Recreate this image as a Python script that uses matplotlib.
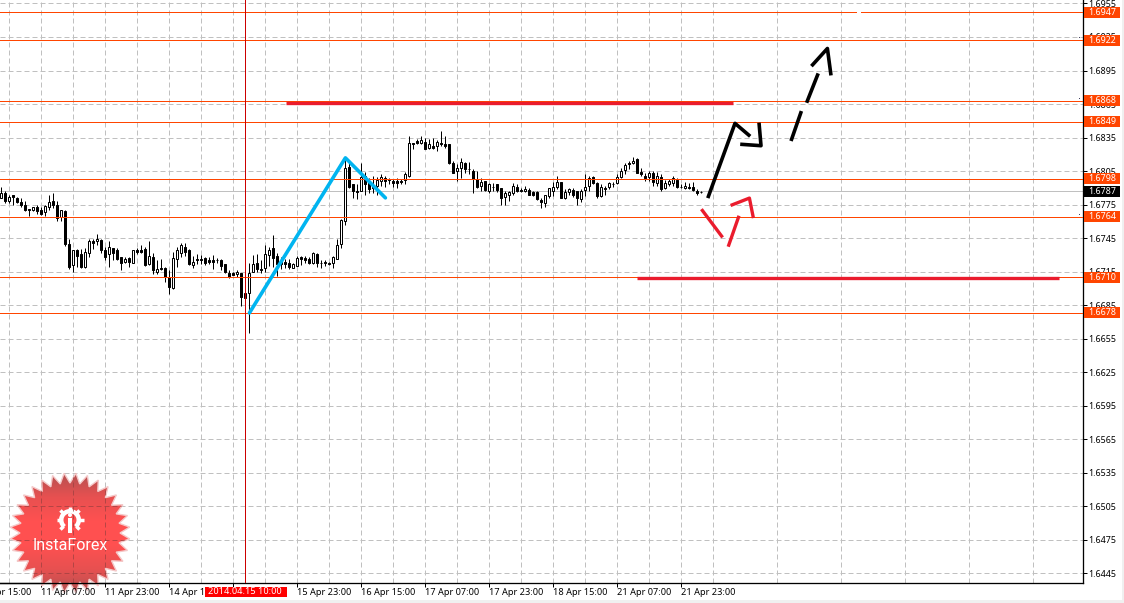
import numpy as np
from matplotlib import pyplot as plt
from matplotlib.colors import LinearSegmentedColormap
from matplotlib.patches import Circle, Polygon, Rectangle, Wedge

plt.rcParams['font.family'] = ['Noto Sans', 'DejaVu Sans']

# hourly candles, prices as 1.xxxx (only the last four digits are kept here)
opens = [
    6781, 6785, 6778, 6784, 6781, 6777, 6775, 6771, 6770, 6773,
    6770, 6768, 6773, 6778, 6775, 6764, 6769, 6740, 6721, 6734,
    6731, 6719, 6732, 6742, 6742, 6743, 6734, 6731, 6736, 6734,
    6728, 6724, 6727, 6723, 6734, 6734, 6735, 6722, 6728, 6715,
    6718, 6718, 6710, 6700, 6726, 6732, 6737, 6734, 6721, 6726,
    6726, 6727, 6725, 6725, 6725, 6725, 6722, 6714, 6714, 6713,
    6714, 6691, 6696, 6715, 6723, 6717, 6718, 6730, 6736, 6729,
    6725, 6724, 6723, 6718, 6720, 6728, 6727, 6726, 6723, 6731,
    6723, 6724, 6723, 6723, 6726, 6740, 6760, 6809, 6793, 6787,
    6787, 6801, 6795, 6792, 6792, 6796, 6799, 6798, 6796, 6796,
    6796, 6797, 6801, 6830, 6832, 6830, 6831, 6826, 6827, 6827,
    6830, 6829, 6829, 6812, 6805, 6808, 6812, 6807, 6805, 6798,
    6792, 6796, 6787, 6791, 6793, 6790, 6782, 6784, 6785, 6791,
    6788, 6787, 6788, 6786, 6786, 6779, 6776, 6783, 6787, 6791,
    6795, 6781, 6786, 6788, 6787, 6780, 6788, 6792, 6800, 6794,
    6783, 6790, 6791, 6793, 6794, 6800, 6806, 6812, 6812, 6816,
    6804, 6801, 6800, 6803, 6794, 6800, 6790, 6793, 6794, 6797,
    6791, 6790, 6791, 6791, 6787, 6786,
]
highs = [
    6791, 6787, 6784, 6784, 6782, 6781, 6778, 6771, 6773, 6775,
    6773, 6775, 6784, 6785, 6778, 6770, 6770, 6744, 6734, 6735,
    6735, 6736, 6744, 6744, 6749, 6744, 6737, 6742, 6736, 6736,
    6728, 6728, 6728, 6734, 6736, 6739, 6737, 6742, 6732, 6725,
    6726, 6719, 6716, 6733, 6737, 6741, 6741, 6735, 6729, 6731,
    6730, 6728, 6728, 6730, 6727, 6726, 6722, 6716, 6715, 6716,
    6714, 6700, 6723, 6730, 6731, 6725, 6739, 6737, 6748, 6732,
    6728, 6726, 6726, 6723, 6729, 6729, 6729, 6728, 6733, 6732,
    6725, 6725, 6724, 6729, 6744, 6762, 6817, 6813, 6793, 6793,
    6812, 6804, 6799, 6801, 6800, 6802, 6801, 6799, 6798, 6799,
    6798, 6804, 6836, 6830, 6834, 6836, 6835, 6834, 6835, 6833,
    6841, 6836, 6829, 6814, 6811, 6817, 6813, 6813, 6807, 6805,
    6799, 6796, 6794, 6794, 6793, 6790, 6787, 6787, 6794, 6793,
    6790, 6792, 6790, 6787, 6787, 6781, 6784, 6790, 6795, 6801,
    6795, 6789, 6790, 6790, 6787, 6789, 6802, 6801, 6801, 6795,
    6793, 6792, 6795, 6795, 6802, 6808, 6812, 6814, 6818, 6817,
    6808, 6803, 6805, 6805, 6804, 6802, 6797, 6798, 6801, 6799,
    6793, 6795, 6794, 6795, 6789, 6787,
]
lows = [
    6781, 6776, 6776, 6775, 6776, 6773, 6769, 6765, 6769, 6767,
    6766, 6765, 6770, 6772, 6760, 6760, 6738, 6717, 6715, 6719,
    6718, 6718, 6728, 6735, 6739, 6732, 6725, 6719, 6725, 6725,
    6716, 6723, 6719, 6723, 6731, 6732, 6720, 6721, 6713, 6713,
    6716, 6706, 6695, 6699, 6719, 6728, 6729, 6721, 6718, 6722,
    6722, 6721, 6722, 6717, 6723, 6716, 6714, 6709, 6712, 6710,
    6684, 6682, 6660, 6715, 6715, 6714, 6715, 6720, 6719, 6711,
    6717, 6718, 6717, 6718, 6720, 6721, 6723, 6722, 6722, 6719,
    6718, 6720, 6721, 6718, 6726, 6736, 6757, 6790, 6781, 6780,
    6787, 6784, 6785, 6785, 6784, 6792, 6791, 6793, 6791, 6790,
    6793, 6793, 6800, 6825, 6829, 6829, 6825, 6825, 6825, 6823,
    6827, 6826, 6811, 6803, 6796, 6799, 6803, 6802, 6785, 6790,
    6787, 6787, 6785, 6787, 6786, 6775, 6775, 6778, 6784, 6786,
    6786, 6786, 6784, 6783, 6779, 6772, 6773, 6781, 6783, 6789,
    6781, 6780, 6784, 6782, 6775, 6777, 6783, 6787, 6793, 6781,
    6782, 6784, 6789, 6791, 6793, 6799, 6802, 6807, 6811, 6803,
    6801, 6796, 6796, 6792, 6792, 6787, 6789, 6792, 6792, 6790,
    6790, 6789, 6789, 6787, 6784, 6785,
]
closes = [
    6785, 6778, 6782, 6782, 6777, 6775, 6770, 6770, 6773, 6769,
    6767, 6774, 6777, 6775, 6763, 6770, 6740, 6719, 6734, 6729,
    6719, 6733, 6742, 6741, 6744, 6734, 6728, 6737, 6732, 6726,
    6723, 6726, 6724, 6734, 6733, 6733, 6721, 6729, 6716, 6717,
    6717, 6710, 6701, 6727, 6734, 6739, 6733, 6722, 6724, 6725,
    6725, 6723, 6724, 6724, 6725, 6720, 6715, 6710, 6712, 6715,
    6692, 6696, 6714, 6722, 6717, 6716, 6731, 6734, 6727, 6722,
    6722, 6722, 6719, 6722, 6727, 6726, 6725, 6723, 6732, 6723,
    6723, 6723, 6722, 6728, 6739, 6761, 6808, 6791, 6787, 6786,
    6800, 6793, 6789, 6790, 6797, 6800, 6796, 6797, 6794, 6794,
    6795, 6802, 6830, 6829, 6830, 6833, 6825, 6829, 6826, 6831,
    6829, 6827, 6812, 6803, 6808, 6813, 6807, 6807, 6798, 6791,
    6795, 6788, 6793, 6791, 6788, 6781, 6785, 6786, 6792, 6787,
    6787, 6789, 6784, 6784, 6780, 6777, 6784, 6790, 6791, 6795,
    6781, 6786, 6789, 6784, 6781, 6787, 6791, 6799, 6794, 6783,
    6791, 6789, 6794, 6793, 6800, 6805, 6810, 6811, 6814, 6803,
    6802, 6799, 6803, 6795, 6801, 6789, 6794, 6796, 6799, 6791,
    6791, 6792, 6790, 6788, 6785, 6786,
]

# horizontal levels on the chart and the last price
levels = [1.6947, 1.6922, 1.6868, 1.6849, 1.6798, 1.6764, 1.6710, 1.6678]
last_price = 1.6787
price_ticks = [1.6955, 1.6925, 1.6895, 1.6865, 1.6835, 1.6805, 1.6775, 1.6745, 1.6715,
               1.6685, 1.6655, 1.6625, 1.6595, 1.6565, 1.6535, 1.6505, 1.6475, 1.6445]

# labelled time ticks: bar number, text
time_bars = [-6, 10, 26, 42, 58, 74, 90, 106, 122, 138, 154, 170]
time_labels = ['10 Apr 15:00', '11 Apr 07:00', '11 Apr 23:00', '14 Apr 15:00', '15 Apr 07:00',
               '15 Apr 23:00', '16 Apr 15:00', '17 Apr 07:00', '17 Apr 23:00', '18 Apr 15:00',
               '21 Apr 07:00', '21 Apr 23:00']
cross_bar = 61
cross_label = '2014.04.15 10:00'

# hand drawn lines as (bars, prices)
blue_bars = [62.1, 86.1, 96.1]
blue_prices = [1.6678, 1.68168, 1.67810]
red_lines = [([71.2, 183.0], [1.68659, 1.68659]),
             ([158.9, 264.4], [1.67096, 1.67096]),
             ([175.1, 180.4], [1.67709, 1.67456]),
             ([181.8, 184.5], [1.67373, 1.67650]),
             ([182.4, 187.1, 188.1], [1.67742, 1.67808, 1.67629])]
black_lines = [([176.7, 183.5, 187.3], [1.67808, 1.68477, 1.68361]),
               ([184.8, 190.0, 189.5], [1.68290, 1.68277, 1.68483]),
               ([197.5, 200.1], [1.68319, 1.68587]),
               ([201.4, 204.3], [1.68661, 1.68924]),
               ([202.6, 206.6, 207.5], [1.68989, 1.69147, 1.68906])]

ORANGE = '#ff4500'
PX = 0.72  # one pixel in points at dpi 100
DASH = (0, (5, 3))
PRICE_FONT = 6.4
TIME_FONT = 6.6

o = 1 + np.array(opens) / 10000
h = 1 + np.array(highs) / 10000
l = 1 + np.array(lows) / 10000
c = 1 + np.array(closes) / 10000
bars = np.arange(len(o))

fig = plt.figure(figsize=(11.24, 6.03), dpi=100, facecolor='white')

# chart area, 1083 x 583 px, bars 4 px apart
ax = fig.add_axes([0, 20 / 603, 1083 / 1124, 583 / 603], zorder=1)
ax.set_xlim(-0.25, 270.5)
ax.set_ylim(1.64363, 1.69581)
ax.set_axisbelow(True)

grid_bars = np.arange(2, 270, 8)
minor_bars = np.arange(2, 270, 16)
ax.set_xticks([b for b in time_bars if b >= 0])
ax.set_xticks(minor_bars, minor=True)
ax.set_xticklabels([])
ax.set_yticks(price_ticks)
ax.set_yticklabels(['%.4f' % p for p in price_ticks], fontsize=PRICE_FONT)
ax.yaxis.tick_right()
ax.tick_params(axis='y', length=3.5 * PX, width=PX, pad=1.5)
ax.tick_params(axis='x', length=4 * PX, width=PX)
ax.tick_params(axis='x', which='minor', length=0)
ax.grid(True, which='both', color='#c0c0c0', lw=PX, linestyle=DASH)
for side in ['left', 'top']:
    ax.spines[side].set_visible(False)
for side in ['right', 'bottom']:
    ax.spines[side].set_linewidth(1.3 * PX)

# candles
ax.vlines(bars, l, h, color='black', lw=PX, zorder=3)
body_low = np.minimum(o, c)
body_size = np.abs(c - o)
colors = np.where(c > o, 'white', 'black')
ax.bar(bars, body_size, bottom=body_low, width=0.5, color=colors, edgecolor='black', lw=PX, zorder=4)

# levels and crosshair
for lev in levels:
    ax.axhline(lev, color=ORANGE, lw=PX, zorder=5)
ax.plot([214.05, 215.0], [levels[0], levels[0]], color='white', lw=1.5, solid_capstyle='butt', zorder=5.5)
ax.axhline(last_price, color='#c0c0c0', lw=PX, zorder=2)
ax.axvline(cross_bar, color='#cc0000', lw=PX, zorder=5)

# hand drawn lines
ax.plot(blue_bars, blue_prices, color='#00b4f0', lw=2.6, solid_capstyle='round', zorder=6)
for xs, ys in red_lines:
    ax.plot(xs, ys, color='#ea1c2d', lw=2.4, solid_capstyle='butt', zorder=6)
for xs, ys in black_lines:
    ax.plot(xs, ys, color='black', lw=2.6, solid_capstyle='butt', zorder=6)

# small marks beside the level labels
ax.plot([269.4] * 3, [1.69248, 1.68703, 1.67667], ls='', marker='s', ms=0.6, mew=0, color='#303050', zorder=6)

# price labels
yt = ax.get_yaxis_transform()
xt = ax.get_xaxis_transform()
half = 5.5 * 8.95e-5
for lev, col in [(v, ORANGE) for v in levels] + [(last_price, 'black')]:
    ax.add_patch(Rectangle((1.0008, lev - half), 36 / 1083, 2 * half, transform=yt, facecolor=col,
                           edgecolor='none', clip_on=False, zorder=8))
    ax.text(1.0008 + 18 / 1083, lev, '%.4f' % lev, transform=yt, color='white', fontsize=PRICE_FONT,
            ha='center', va='center', clip_on=False, zorder=9)

# logo over the chart, with the grid redrawn darker inside it
logo = fig.add_axes([0, 0, 1, 1], zorder=2)
logo.axis('off')
angles = np.linspace(0, 2 * np.pi, 64, endpoint=False) + np.pi / 32
radius = np.where(np.arange(64) % 2 == 0, 60, 50)
star = Polygon(np.c_[70 + radius * np.cos(angles), 533 + radius * np.sin(angles)],
               facecolor='none', edgecolor='#f4c8c8', lw=1)
logo.add_patch(star)
cmap = LinearSegmentedColormap.from_list('logo', ['#b55050', '#e85050', '#ff5050', '#ff5050', '#e85050', '#b55050'])
grad = logo.imshow(np.linspace(0, 1, 120)[:, None], cmap=cmap, aspect='auto', extent=(10, 130, 593, 473))
grad.set_clip_path(star)
for b in grid_bars[:6]:
    line, = logo.plot([b, b], [0, 1], transform=xt, color='#9c4040', lw=PX, ls=DASH, alpha=0.7)
    line.set_clip_path(star)
for p in price_ticks[-6:]:
    line, = logo.plot([0, 1], [p, p], transform=yt, color='#9c4040', lw=PX, ls=DASH, alpha=0.7)
    line.set_clip_path(star)
logo.plot([0, 140 / 1083], [0, 0], transform=ax.transAxes, color='black', lw=1.3 * PX)

logo.add_patch(Wedge((70, 520), 11, 130, 50, width=4.5, facecolor='white', edgecolor='none'))
for a in np.arange(0, 360, 45):
    if a != 90:
        logo.plot([70 + 9 * np.cos(np.radians(a)), 70 + 13.5 * np.cos(np.radians(a))],
                  [520 + 9 * np.sin(np.radians(a)), 520 + 13.5 * np.sin(np.radians(a))],
                  color='white', lw=2.5, solid_capstyle='butt')
logo.add_patch(Rectangle((68, 518), 4, 15, facecolor='white', edgecolor='none'))
logo.add_patch(Circle((70, 515), 2, facecolor='white', edgecolor='none'))
logo.text(70, 545.5, 'InstaForex', color='white', fontsize=11.5, family='Roboto',
          ha='center', va='center')

# window edge
logo.add_patch(Rectangle((0, 600), 1124, 3, facecolor='#f0f0f0', edgecolor='none'))
logo.add_patch(Rectangle((1122, 0), 2, 603, facecolor='#f0f0f0', edgecolor='none'))
logo.set_xlim(0, 1124)
logo.set_ylim(603, 0)

# time labels, the one under the crosshair box is hidden by it
for b, txt in zip(time_bars, time_labels):
    logo.text(b, -9.5 / 583, txt, transform=xt, fontsize=TIME_FONT, ha='left', va='center', clip_on=False)
logo.add_patch(Rectangle((cross_bar - 10.1, -14 / 583), 20.6, 10 / 583, transform=xt, facecolor='#ff0000',
                         edgecolor='none', clip_on=False, zorder=5))
logo.text(cross_bar, -9 / 583, cross_label, transform=xt, fontsize=TIME_FONT, color='white', ha='center',
          va='center', clip_on=False, zorder=6)

plt.savefig('out.png', dpi=100)
